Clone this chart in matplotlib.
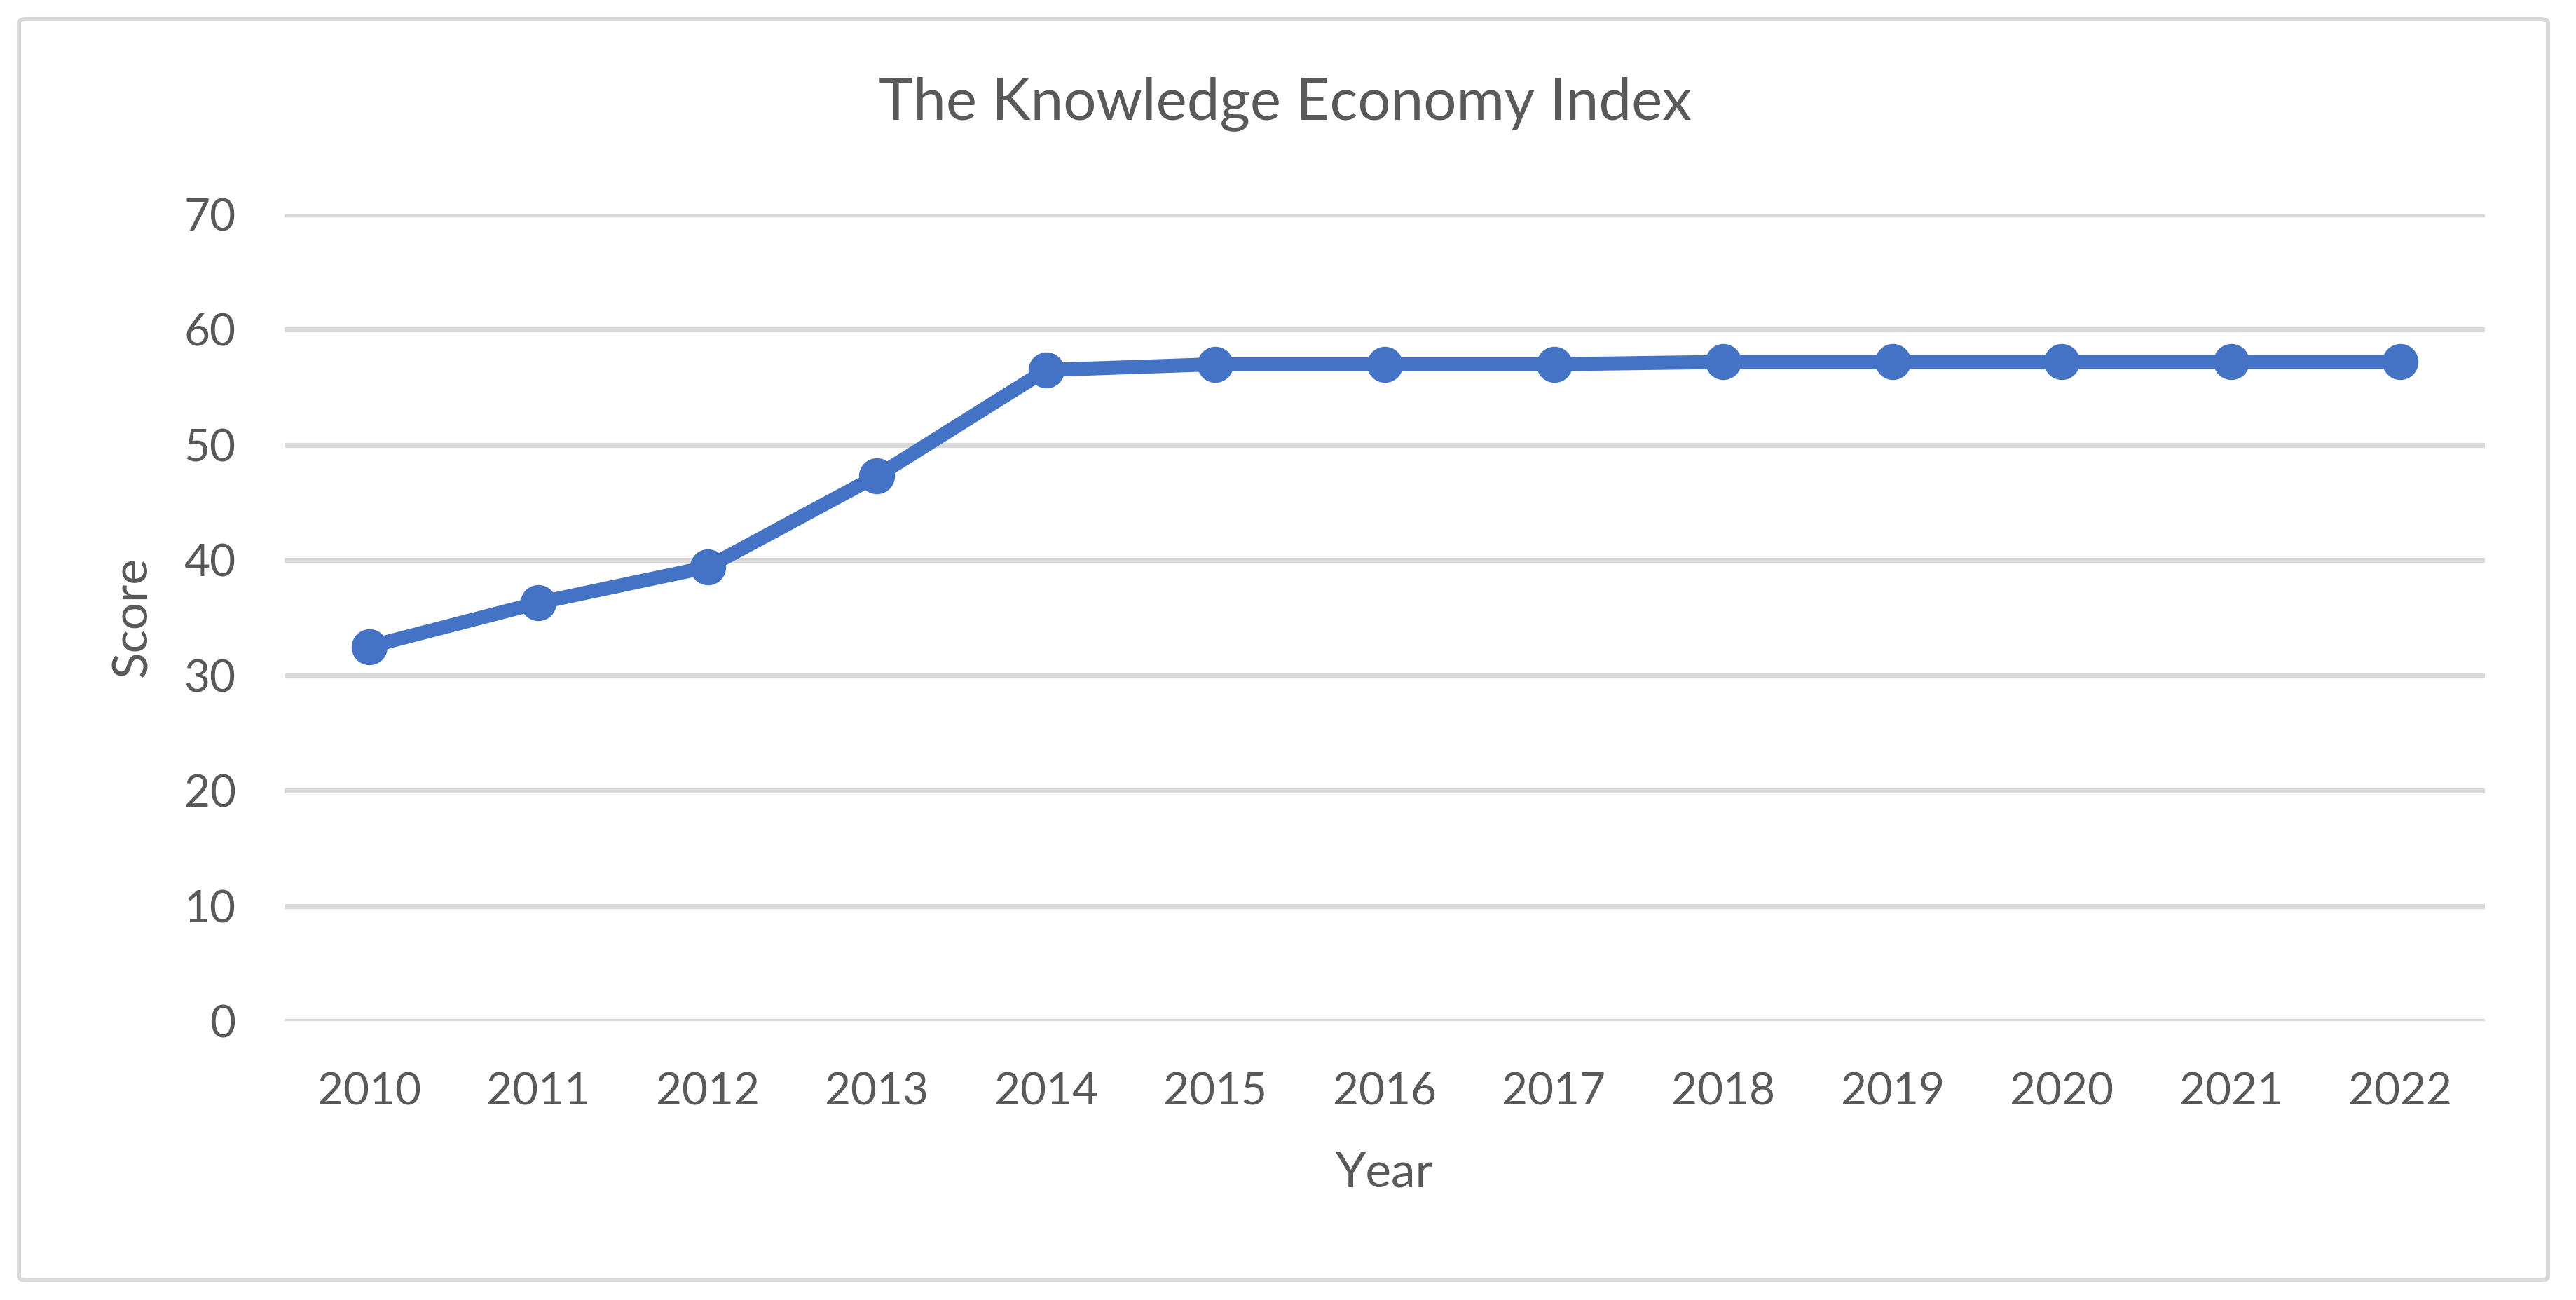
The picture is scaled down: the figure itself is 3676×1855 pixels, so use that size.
import matplotlib
matplotlib.use("Agg")
import matplotlib.pyplot as plt
from matplotlib.patches import FancyBboxPatch

years = ["2010", "2011", "2012", "2013", "2014", "2015", "2016",
         "2017", "2018", "2019", "2020", "2021", "2022"]
scores = [32.5, 36.3, 39.4, 47.3, 56.5, 57.0, 57.0, 57.0, 57.2, 57.2, 57.2, 57.2, 57.2]
y_ticks = [0, 10, 20, 30, 40, 50, 60, 70]

title = "The Knowledge Economy Index"
x_label = "Year"
y_label = "Score"

text_color = "#595959"
grid_color = "#d9d9d9"
line_color = "#4472C4"

plt.rcParams["font.family"] = ["Lato", "DejaVu Sans"]

W, H = 3676, 1855
dpi = 200
fig = plt.figure(figsize=(W / dpi, H / dpi), dpi=dpi)

# outer chart border
border = FancyBboxPatch((27 / W, 1 - 1827 / H), (3636 - 27) / W, (1827 - 27) / H,
                        boxstyle="round,pad=0,rounding_size=0.003",
                        transform=fig.transFigure, fill=False,
                        edgecolor=grid_color, linewidth=2.2)
fig.patches.append(border)

ax = fig.add_axes([406 / W, 1 - 1457 / H, (3546 - 406) / W, (1457 - 306) / H])
x = list(range(len(years)))
ax.plot(x, scores, color=line_color, linewidth=7.2, marker="o",
        markersize=17.5, markerfacecolor=line_color, markeredgecolor=line_color,
        solid_joinstyle="round", zorder=3)

ax.set_xlim(-0.5, len(years) - 0.5)
ax.set_ylim(0, 70)
ax.set_yticks(y_ticks)
ax.set_xticks(x)
ax.set_xticklabels(years)
ax.yaxis.grid(True, color=grid_color, linewidth=2.6)
ax.set_axisbelow(True)
for s in ax.spines.values():
    s.set_visible(False)
ax.tick_params(axis="both", length=0, labelsize=23, labelcolor=text_color)
ax.tick_params(axis="x", pad=26)
ax.tick_params(axis="y", pad=25)

fig.text(0.499, 1 - 148 / H, title, ha="center", va="center",
         fontsize=30, color=text_color)
fig.text(0.5 * (406 + 3546) / W, 1 - 1674 / H, x_label, ha="center", va="center",
         fontsize=25, color=text_color)
fig.text(190 / W, 1 - 880 / H, y_label, ha="center", va="center",
         rotation=90, fontsize=25, color=text_color)

fig.savefig("out.png", dpi=dpi, facecolor="white")
